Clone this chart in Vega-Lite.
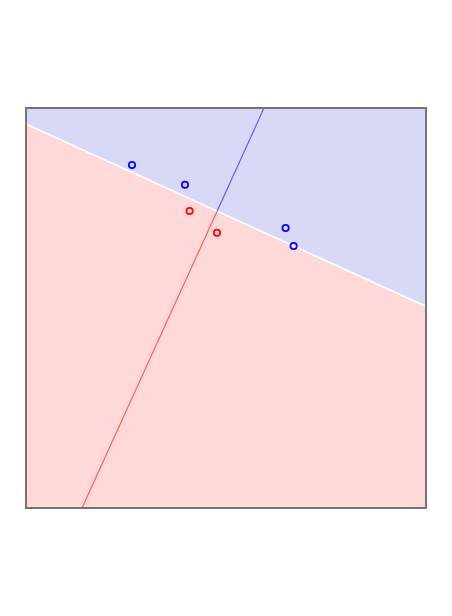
{
  "$schema": "https://vega.github.io/schema/vega-lite/v6.json",
  "autosize": "none",
  "width": 400,
  "height": 400,
  "padding": {"left": 26, "top": 108, "right": 26, "bottom": 108},
  "background": "white",
  "config": {"view": {"stroke": null}},
  "datasets": {
    "boundary": [
      {"x": 0, "y": 0.96},
      {"x": 1, "y": 0.504}
    ],
    "normal": [
      {"x": 0.14, "y": 0, "cls": "red"},
      {"x": 0.478, "y": 0.7425, "cls": "red"},
      {"x": 0.478, "y": 0.7425, "cls": "blue"},
      {"x": 0.595, "y": 1, "cls": "blue"}
    ],
    "points": [
      {"x": 0.265, "y": 0.8575, "cls": "blue"},
      {"x": 0.3975, "y": 0.808, "cls": "blue"},
      {"x": 0.649, "y": 0.70, "cls": "blue"},
      {"x": 0.669, "y": 0.655, "cls": "blue"},
      {"x": 0.409, "y": 0.7425, "cls": "red"},
      {"x": 0.4775, "y": 0.688, "cls": "red"}
    ],
    "frame": [
      {"x": 0, "x2": 1, "y": 0, "y2": 1}
    ]
  },
  "encoding": {
    "x": {"field": "x", "type": "quantitative", "scale": {"domain": [0, 1], "nice": false, "zero": false}, "axis": null},
    "y": {"field": "y", "type": "quantitative", "scale": {"domain": [0, 1], "nice": false, "zero": false}, "axis": null}
  },
  "layer": [
    {
      "data": {"name": "boundary"},
      "mark": {"type": "area", "color": "#d8d8f7", "opacity": 1},
      "encoding": {"y2": {"datum": 1}}
    },
    {
      "data": {"name": "boundary"},
      "mark": {"type": "area", "color": "#ffd8d8", "opacity": 1},
      "encoding": {"y2": {"datum": 0}}
    },
    {
      "data": {"name": "boundary"},
      "mark": {"type": "line", "color": "white", "strokeWidth": 1.8},
      "encoding": {}
    },
    {
      "data": {"name": "normal"},
      "mark": {"type": "line", "strokeWidth": 1.1, "opacity": 0.6},
      "encoding": {
        "detail": {"field": "cls"},
        "color": {"field": "cls", "type": "nominal", "scale": {"domain": ["blue", "red"], "range": ["#0000ff", "#ff0000"]}, "legend": null}
      }
    },
    {
      "data": {"name": "points"},
      "mark": {"type": "point", "shape": "circle", "filled": false, "size": 40, "strokeWidth": 1.7, "opacity": 1},
      "encoding": {
        "color": {"field": "cls", "type": "nominal", "scale": {"domain": ["blue", "red"], "range": ["#0000ff", "#ff0000"]}, "legend": null}
      }
    },
    {
      "data": {"name": "frame"},
      "mark": {"type": "rect", "filled": false, "stroke": "#747474", "strokeWidth": 2},
      "encoding": {
        "x2": {"field": "x2"},
        "y2": {"field": "y2"}
      }
    }
  ]
}
